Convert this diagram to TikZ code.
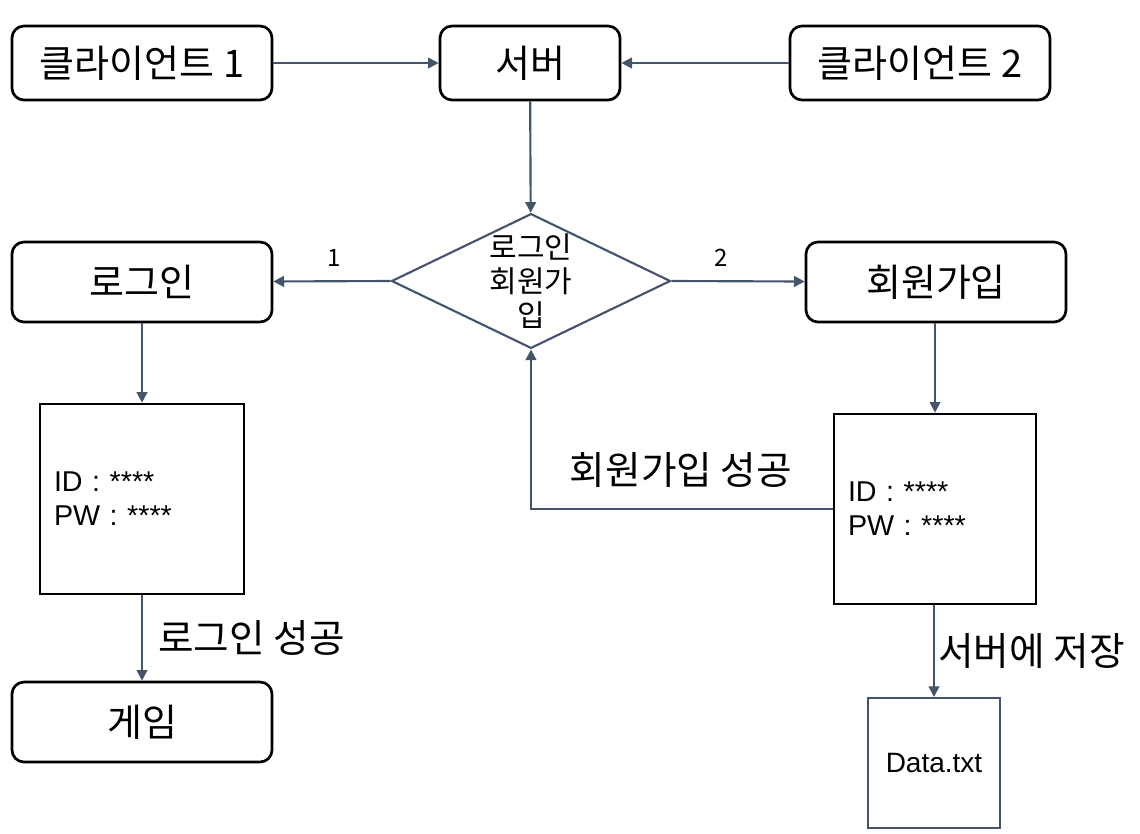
\documentclass[tikz,border=0pt]{standalone}
\usepackage{fontspec}
\setmainfont{Liberation Sans}
\newfontfamily\kr{Noto Sans CJK KR}
\usetikzlibrary{shapes.geometric,arrows.meta}
\definecolor{slateLine}{HTML}{44546A}
\tikzstyle{roundBox}=[shape = rectangle, rounded corners = 9pt, draw, line width = 2pt, minimum width = 195pt, minimum height = 55.5pt, inner sep = 0pt, font = \kr\fontsize{28.5}{32}\selectfont]
\tikzstyle{idBox}=[shape = rectangle, draw, line width = 2pt, minimum height = 142.5pt, inner xsep = 10.5pt, align = left, font = \fontsize{21.5}{25.5}\selectfont]
\tikzstyle{flow}=[draw = slateLine, line width = 1.6pt, -{Triangle[length = 8pt, width = 8pt]}]

\begin{document}
\begin{tikzpicture}[x = 0.75pt, y = -0.75pt]
\tikzstyle{choice}=[shape = diamond, draw = slateLine, line width = 1.6pt, minimum width = 208.5pt, minimum height = 100.5pt, inner sep = 0pt, aspect = 2.07, align = center, font = \kr\fontsize{22.5}{25.5}\selectfont]
\tikzstyle{edgeText}=[font = \kr\fontsize{29}{32}\selectfont]
\tikzstyle{caseText}=[font = \kr\fontsize{18}{20}\selectfont]
\useasboundingbox (0,0) rectangle (1140,833);
% Top row
\node[roundBox] (client1) at (142,63) {클라이언트 1};
\node[roundBox, minimum width = 135pt] (server) at (530,63) {서버};
\node[roundBox] (client2) at (920,63) {클라이언트 2};
\node[choice] (pick) at (531,281) {로그인\\회원가\\입};
% Start left
\node[roundBox, minimum height = 60pt] (login) at (142,282) {로그인};
\node[idBox, text width = 132pt] (loginForm) at (142,499) {ID : ****\\PW : ****};
\node[roundBox, minimum height = 60pt] (game) at (142,722) {게임};
% Start right
\node[roundBox, minimum height = 60pt] (signup) at (936,282) {회원가입};
\node[idBox, text width = 130.5pt] (signupForm) at (935,509) {ID : ****\\PW : ****};
\node[shape = rectangle, draw = slateLine, line width = 1.6pt, minimum width = 99pt, minimum height = 97.5pt, font = \fontsize{21}{24}\selectfont] (dataFile) at (934,763) {Data.txt};
\coordinate (turn) at (531,509);
% Edges
\draw[flow] (client1) -- (server);
\draw[flow] (client2) -- (server);
\draw[flow] (server) -- (pick);
\draw[flow] (pick.west) -- node[caseText, above = 7pt, pos = 0.48] {1} (login);
\draw[flow] (pick.east) -- node[caseText, above = 7pt, pos = 0.37] {2} (signup);
\draw[flow] (login) -- (loginForm);
\draw[flow] (loginForm) -- node[edgeText, right = 8pt, pos = 0.5] {로그인 성공} (game);
\draw[flow] (signup.south -| signupForm) -- (signupForm);
\draw[flow] (signupForm.west) -- (turn) -- (pick.south);
\node[edgeText] (okText) at (681,470) {회원가입 성공};
\draw[flow] (signupForm.south -| dataFile) -- node[edgeText, right = -1pt, pos = 0.5] {서버에 저장} (dataFile);
\end{tikzpicture}
\end{document}
